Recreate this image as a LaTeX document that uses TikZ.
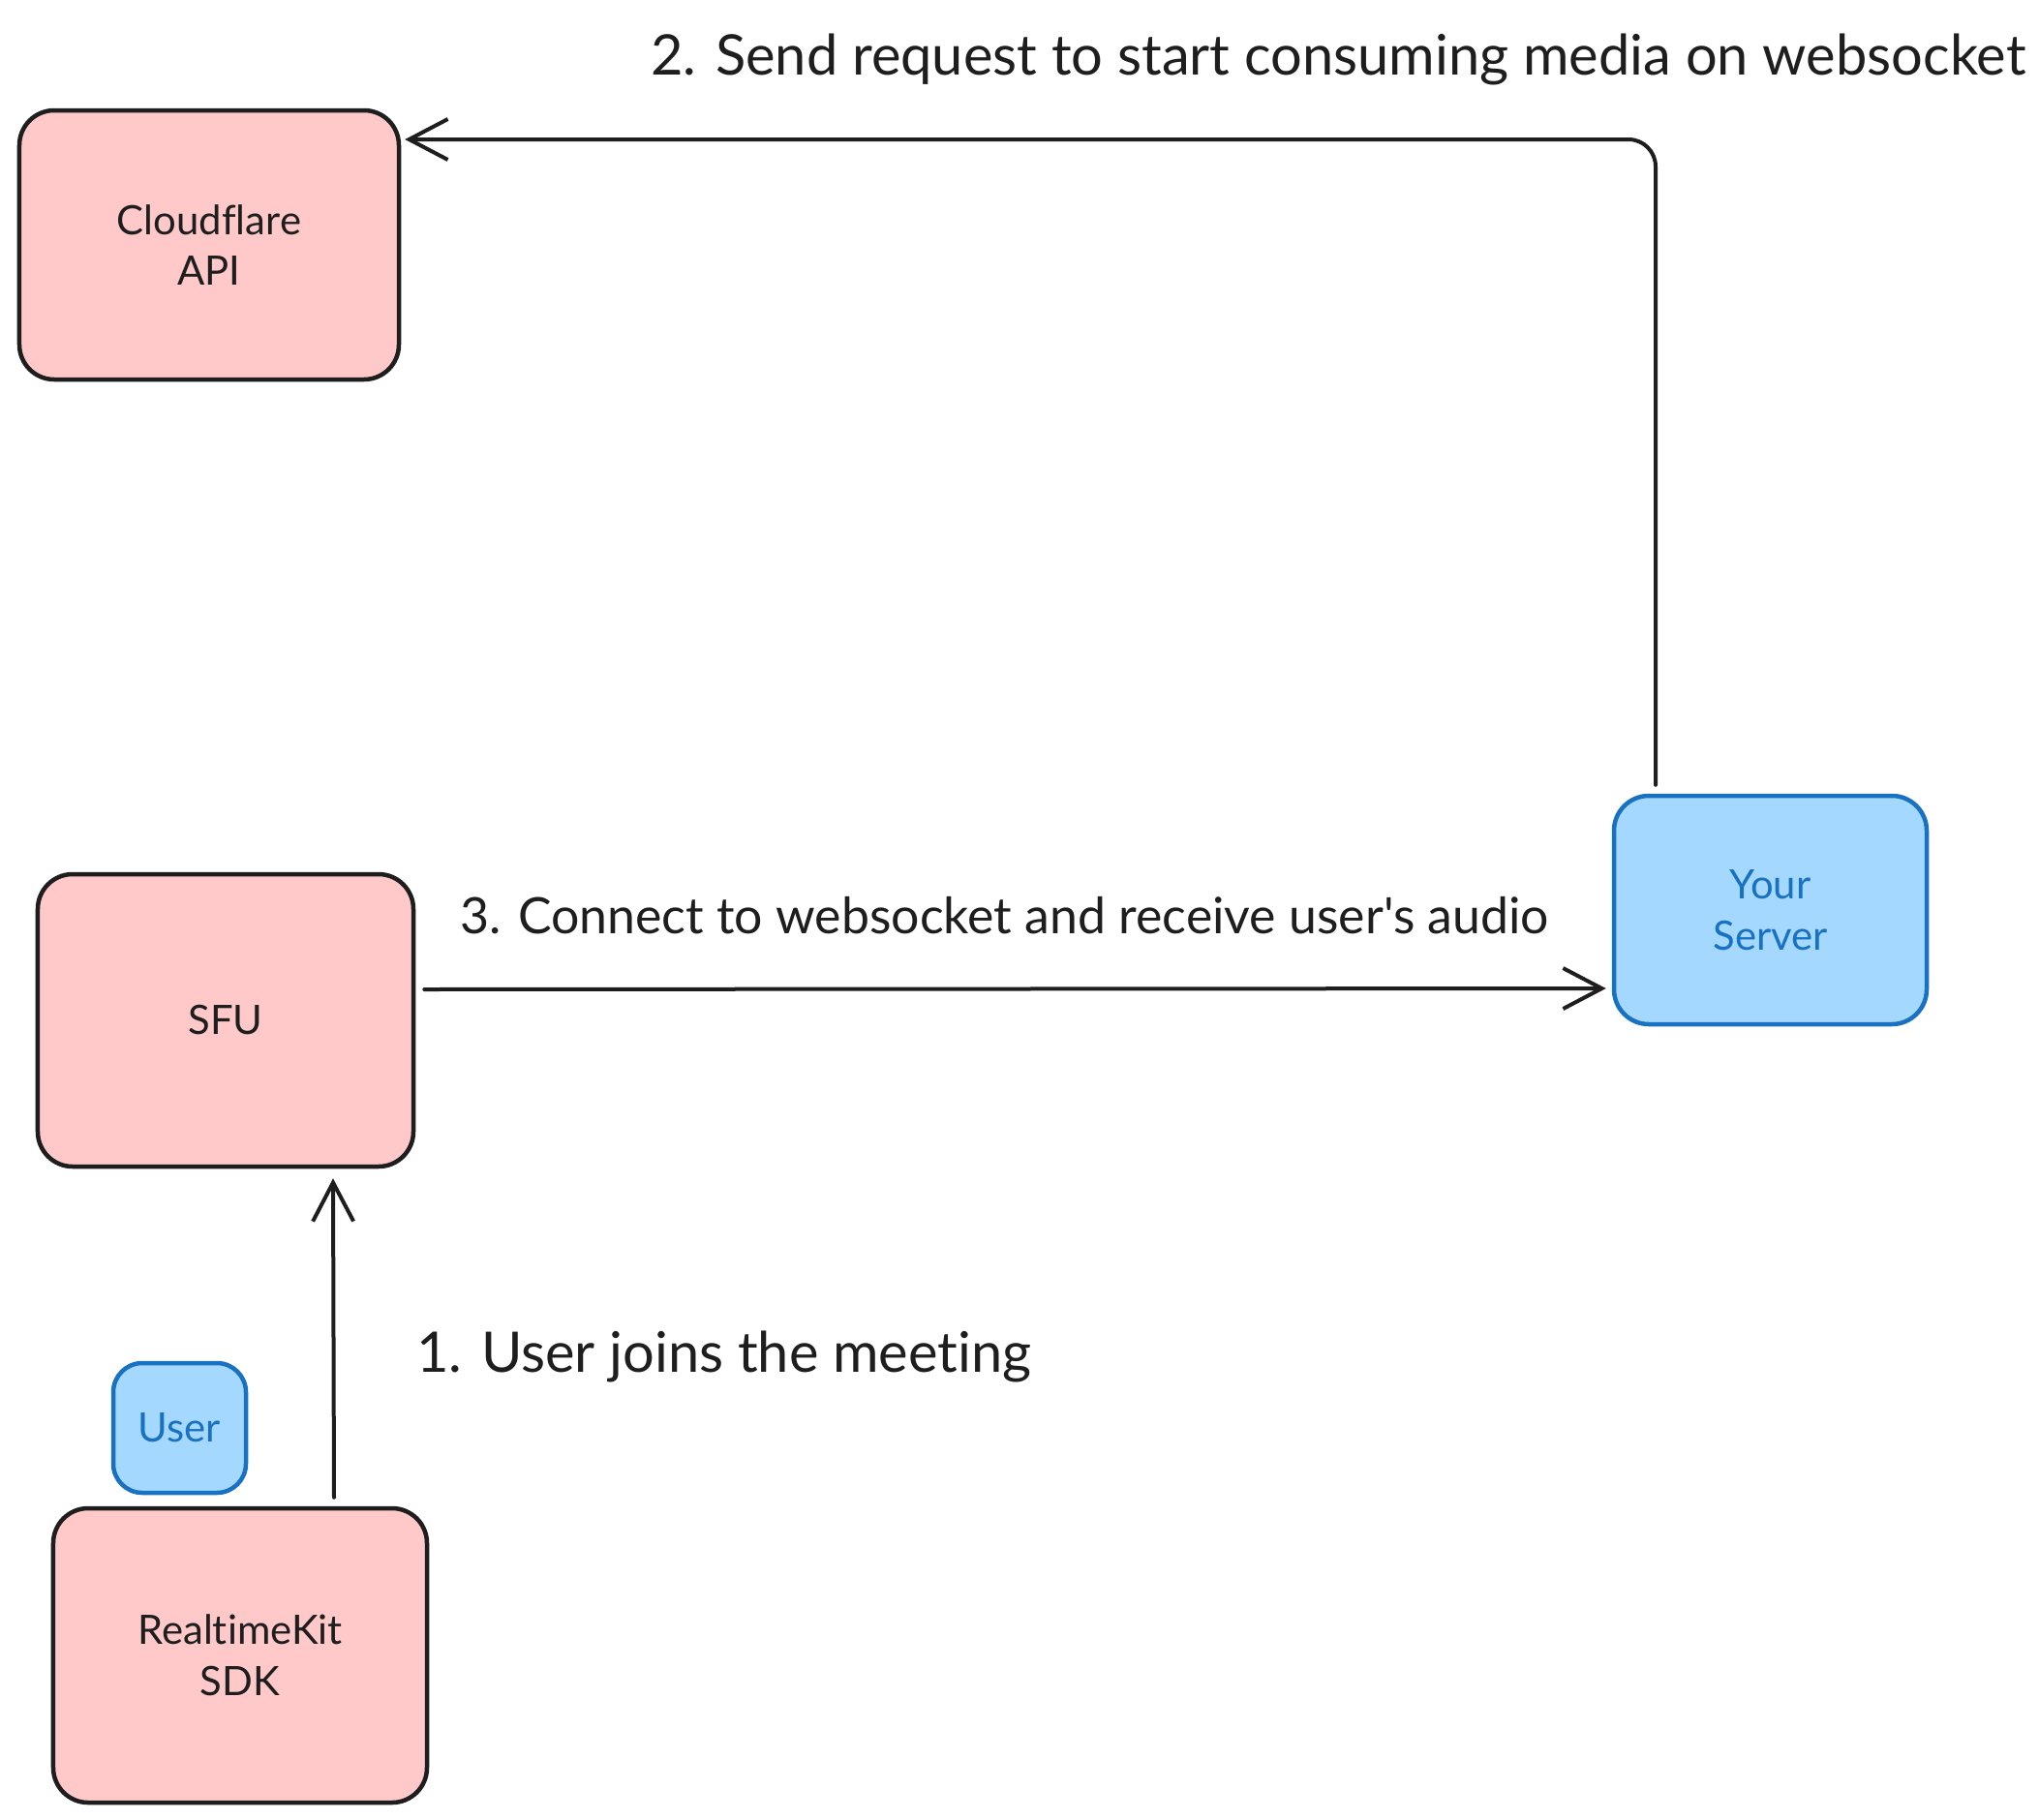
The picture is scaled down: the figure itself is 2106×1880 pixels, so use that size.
\documentclass[tikz,border=0pt]{standalone}
\usepackage{fontspec}
\setmainfont{Lato}[Ligatures={TeXOff,CommonOff}]
\usetikzlibrary{arrows.meta,calc}
\definecolor{ink}{HTML}{1E1E1E}
\definecolor{pinkfill}{HTML}{FFC9C9}
\definecolor{bluefill}{HTML}{A5D8FF}
\definecolor{bluestroke}{HTML}{1971C2}
\tikzset{
  box/.style={draw=ink, fill=pinkfill, line width=4.5bp, rounded corners=36bp,
    align=center, text=ink, font=\fontsize{42}{53}\selectfont, inner sep=0pt},
  bluebox/.style={box, draw=bluestroke, fill=bluefill, text=bluestroke},
  conn/.style={draw=ink, line width=4bp, line cap=round,
    -{Straight Barb[length=40bp,width=42bp,line width=4bp]}},
  lbl/.style={font=\fontsize{58}{70}\selectfont, text=ink, inner sep=0pt, anchor=base west},
}
\begin{document}
\begin{tikzpicture}[x=1bp,y=-1bp]
\useasboundingbox[fill=white] (0,0) rectangle (2106,1880);
\node[box, minimum width=392bp, minimum height=278bp] (cf) at (216,253) {Cloudflare\\API};
\node[box, minimum width=388bp, minimum height=302bp] (sfu) at (233,1054) {SFU};
\node[bluebox, minimum width=323bp, minimum height=236bp] (srv) at (1828.5,940) {Your\\Server};
\node[bluebox, rounded corners=30bp, minimum width=137bp, minimum height=134bp] (usr) at (185.5,1475) {User};
\node[box, minimum width=386bp, minimum height=304bp] (sdk) at (248,1710) {RealtimeKit\\SDK};

\draw[conn] ($(sdk.north)+(97,-9)$) -- ($(sfu.south)+(111,10)$);
\draw[conn, rounded corners=28bp] ($(srv.north)+(-118.5,-9)$) |- ($(cf.east)+(4,-109)$);
\draw[conn] ($(sfu.east)+(9,-32)$) -- ($(srv.west)+(-6,81)$);

\node[lbl] (l2) at (672,77) {2. Send request to start consuming media on websocket};
\node[lbl, font=\fontsize{52}{62}\selectfont] (l3) at (475,964) {3. Connect to websocket and receive user's audio};
\node[lbl] (l1) at (430,1417) {1. User joins the meeting};
\end{tikzpicture}
\end{document}
